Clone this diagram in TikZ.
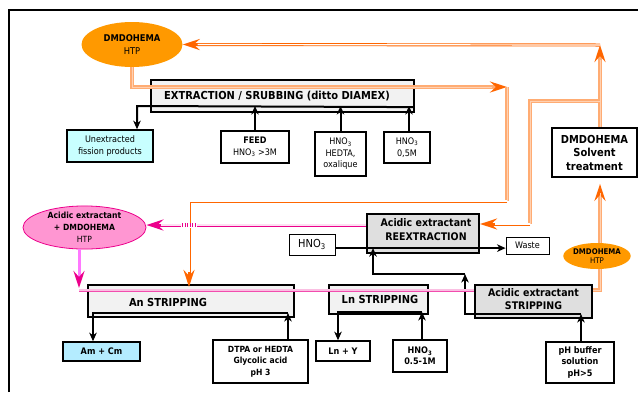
\documentclass[tikz,border=0pt]{standalone}
\usepackage{fontspec}
\setmainfont{DejaVu Sans Condensed}
\usetikzlibrary{arrows.meta,shapes.geometric}

\definecolor{ellorange}{RGB}{255,153,0}
\definecolor{solvdark}{RGB}{255,102,0}
\definecolor{solvpale}{RGB}{255,172,115}
\definecolor{pinkfill}{RGB}{255,150,210}
\definecolor{magpale}{RGB}{255,120,255}
\definecolor{unextcyan}{RGB}{200,255,255}
\definecolor{amcyan}{RGB}{180,236,255}

\tikzset{
  caixa/.style={draw, line width=1.6pt, align=center, inner sep=1pt, font=\fontsize{9}{11.5}\selectfont},
  proc/.style={draw, line width=2.2pt},
  proclbl/.style={align=center, font=\fontsize{11}{13.5}\selectfont\bfseries},
  oval/.style={ellipse, inner sep=0pt, align=center},
  flow/.style={line width=2pt, -{Stealth[length=8.5pt,width=7.5pt,inset=2.5pt]}},
  otip/.style={-{Stealth[length=17pt,width=11pt,inset=6pt,color=solvdark]}},
  mtip/.style={-{Stealth[length=17pt,width=11pt,inset=6pt,color=magenta]}},
  solvP/.style={draw=solvpale, line width=3.6pt, postaction={draw=solvpale!55, line width=1pt, -}},
  solvPa/.style={draw=solvpale, line width=3.6pt, otip, postaction={draw=solvpale!55, line width=1pt, -, shorten >=15pt}},
  solvDa/.style={draw=solvdark, line width=3pt, otip, postaction={draw=white, line width=1.2pt, -, shorten >=15pt}},
  magD/.style={draw=magenta, line width=3pt, mtip, postaction={draw=magenta!12, line width=1.2pt, -, shorten >=15pt}},
  magH/.style={draw=magenta!70, line width=3pt, postaction={draw=magenta!25, line width=1.2pt, -}},
  magP/.style={draw=magpale, line width=3pt, mtip}
}

\begin{document}
\begin{tikzpicture}[x=1pt,y=-1pt]
  \useasboundingbox (0,0) rectangle (638,392);
  % Moldura
  \draw[line width=2pt] (9,392) -- (9,10) -- (638,10);
  % Solvente
  \node[oval, fill=ellorange, minimum width=101pt, minimum height=45pt, font=\fontsize{9.3}{12.5}\selectfont] (dmdA) at (132,44.5) {\textbf{DMDOHEMA}\\HTP};
  % Extracao
  \node[proc, fill=gray!10, minimum width=263pt, minimum height=32pt, label={[proclbl, xshift=-5.5pt]center:EXTRACTION / SRUBBING (ditto DIAMEX)}] (extr) at (282.5,96) {};
  \node[caixa, fill=unextcyan, minimum width=86pt, minimum height=32pt] (unext) at (110,146) {Unextracted\\fission products};
  \node[caixa, minimum width=68pt, minimum height=32pt] (feed) at (255,147) {\textbf{FEED}\\HNO\textsubscript{3} >3M};
  \node[caixa, minimum width=51pt, minimum height=44pt] (hedta) at (340.5,154) {HNO\textsubscript{3}\\HEDTA,\\oxalique};
  \node[caixa, minimum width=46pt, minimum height=31pt] (acid) at (407,147.5) {HNO\textsubscript{3}\\0,5M};
  \node[caixa, line width=1.8pt, minimum width=85pt, minimum height=49pt, font=\fontsize{11}{13.5}\selectfont\bfseries] (trat) at (594.5,152.5) {DMDOHEMA\\Solvent\\treatment};
  % Reextracao
  \node[oval, fill=pinkfill, draw=magenta, line width=0.8pt, minimum width=123pt, minimum height=39pt, font=\fontsize{8.5}{12}\selectfont] (mix) at (84.5,227.5) {\textbf{Acidic extractant}\\\textbf{+ DMDOHEMA}\\HTP};
  \node[proc, fill=gray!25, minimum width=112pt, minimum height=39pt, label={[proclbl, font=\fontsize{10.5}{14}\selectfont\bfseries, xshift=3pt, yshift=4pt]center:Acidic extractant\\REEXTRACTION}] (reext) at (423,233.5) {};
  \node[caixa, line width=0.8pt, minimum width=46pt, minimum height=21pt, font=\fontsize{11}{13}\selectfont] (acidB) at (312,244.5) {HNO\textsubscript{3}};
  \node[caixa, line width=0.8pt, minimum width=43pt, minimum height=17pt] (waste) at (527.5,245.5) {Waste};
  % Desextracoes
  \node[proc, fill=gray!10, minimum width=206pt, minimum height=32pt, label={[proclbl, xshift=-23pt, yshift=-1pt]center:An STRIPPING}] (anstr) at (191,301) {};
  \node[proc, fill=gray!10, minimum width=99pt, minimum height=29pt, label={[proclbl, xshift=1.5pt]center:Ln STRIPPING}] (lnstr) at (378.5,299.5) {};
  \node[proc, fill=gray!25, minimum width=117pt, minimum height=33pt, label={[proclbl, font=\fontsize{10.5}{13}\selectfont\bfseries, yshift=2pt]center:Acidic extractant\\STRIPPING}] (acstr) at (533.5,301.5) {};
  \node[caixa, fill=amcyan, font=\fontsize{9}{11}\selectfont\bfseries, minimum width=77pt, minimum height=19pt] (amcm) at (101.5,351.5) {Am + Cm};
  \node[caixa, font=\fontsize{8.5}{11.5}\selectfont\bfseries, minimum width=95pt, minimum height=43pt] (dtpa) at (260.5,361.5) {DTPA or HEDTA\\Glycolic acid\\pH 3};
  \node[caixa, font=\fontsize{9}{11}\selectfont\bfseries, minimum width=54pt, minimum height=20pt] (lny) at (343,351) {Ln + Y};
  \node[caixa, font=\fontsize{9}{11}\selectfont\bfseries, minimum width=54pt, minimum height=32pt] (acidC) at (420,356) {HNO\textsubscript{3}\\0.5-1M};
  \node[caixa, font=\fontsize{9}{11.5}\selectfont\bfseries, minimum width=68pt, minimum height=41pt] (buffer) at (580,362.5) {pH buffer\\solution\\pH>5};
  % Pontos de passagem
  \coordinate (extOut) at (137,106);
  \coordinate (reexL) at ([yshift=6pt]reext.south);
  \coordinate (reexO) at ([yshift=9.5pt]reext.east);
  \coordinate (reexM) at ([yshift=8.5pt]reext.west);
  \coordinate (anR) at (288,313);
  \coordinate (anL) at (93,313);
  \coordinate (lnR) at (422,312);
  \coordinate (lnL) at (338,312);
  \coordinate (acR) at (581,314);
  \coordinate (acL) at (465,314);
  \coordinate (bendA) at (465,274);
  \coordinate (bendB) at (373,274);
  \coordinate (oA) at (507,87);
  \coordinate (oB) at (507,201);
  \coordinate (oC) at (189,201);
  \coordinate (oT) at (600,45);
  \coordinate (oD) at (600,101);
  \coordinate (oE) at (530,101);
  \coordinate (oF) at (600,290);
  \coordinate (mA) at (79,290);
  % Fluxos aquosos
  \draw[flow] ([xshift=-2pt,yshift=6pt]extr.south east) -- (extOut) -- (extOut |- unext.north);
  \draw[flow] (feed.north) -- (feed.north |- extOut);
  \draw[flow] (hedta.north) -- (hedta.north |- extOut);
  \draw[flow] ([xshift=2pt]acid.north) -- ([xshift=2pt]acid.north |- extOut);
  \draw[flow] (acidB.east |- reexL) -- (waste.west |- reexL);
  \draw[flow] (dtpa.north -| anR) -- (anR);
  \draw[flow] (anR) -- (anL) -- (anL |- amcm.north);
  \draw[flow] (acidC.north -| lnR) -- (lnR);
  \draw[flow] (lnR) -- (lnL) -- (lnL |- lny.north);
  \draw[flow] (buffer.north -| acR) -- (acR);
  \draw[flow] (acR) -- (acL) -- (bendA);
  \draw[flow] (bendA) -- (bendB) -- (bendB |- reexL);
  % Solvente (laranja)
  \draw[solvPa] (dmdA.south) |- (oA);
  \draw[solvP] (oA) -- (oB);
  \draw[solvDa] (oB) -- (oC) -- ([yshift=-3pt]oC |- anstr.north);
  \draw[solvPa] (trat.north -| oT) -- (oT);
  \draw[solvDa] (oT) -- (dmdA.east);
  \draw[solvP] (oD) -- (oE) -- (oE |- reexO);
  \draw[solvDa] (oE |- reexO) -- (reexO);
  \draw[solvPa, shorten >=6pt] ([yshift=11.5pt]acstr.east) -- (oF) -- (oF |- trat.south);
  % Extratante acido (magenta)
  \draw[magD] (reexM) -- (mix.east |- reexM);
  \coordinate (cruz) at (oC |- reexM);
  \fill[white] ([xshift=-8pt,yshift=-2.5pt]cruz) rectangle ([xshift=8pt,yshift=2.5pt]cruz);
  \draw[magenta, line width=4pt, dash pattern=on 0.8pt off 1.8pt] ([xshift=-7pt]cruz) -- ([xshift=8pt]cruz);
  \draw[magP] (mA |- mix.south) -- ([yshift=2pt]mA);
  \draw[magH] (mA) -- (acstr.west |- mA);
  % Solvente regenerado
  \node[oval, fill=ellorange, minimum width=67pt, minimum height=26pt, font=\fontsize{7.8}{9.5}\selectfont] (dmdB) at (597,256) {\textbf{DMDOHEMA}\\HTP};
\end{tikzpicture}
\end{document}
